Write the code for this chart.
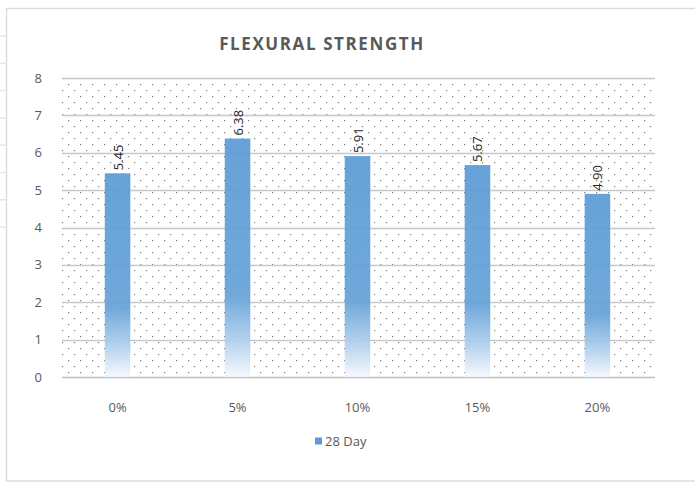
<!DOCTYPE html>
<html>
<head>
<meta charset="utf-8">
<script src="https://cdn.jsdelivr.net/npm/d3@7"></script>
<style>
  html, body { margin: 0; padding: 0; background: #fff; }
  text { font-family: 'Open Sans', 'Liberation Sans', sans-serif; }
</style>
</head>
<body>
<div id="chart"></div>
<script>
const categories = ['0%', '5%', '10%', '15%', '20%'];
const values28Day = [5.45, 6.38, 5.91, 5.67, 4.90];
const yTicks = [0, 1, 2, 3, 4, 5, 6, 7, 8];
const seriesName = '28 Day';
const chartTitle = 'FLEXURAL STRENGTH';

const width = 695;
const height = 483;
const margin = { top: 78, right: 38, bottom: 106, left: 58 };

const svg = d3
  .select('#chart')
  .append('svg')
  .attr('width', width)
  .attr('height', height);

const defs = svg.append('defs');

// dotted plot-area fill
const pattern = defs
  .append('pattern')
  .attr('id', 'dots')
  .attr('patternUnits', 'userSpaceOnUse')
  .attr('x', 62)
  .attr('y', 78)
  .attr('width', 12)
  .attr('height', 12);
pattern.append('rect').attr('x', 0).attr('y', 0).attr('width', 1.2).attr('height', 1.2).attr('fill', '#7f7f7f');
pattern.append('rect').attr('x', 6).attr('y', 6).attr('width', 1.2).attr('height', 1.2).attr('fill', '#7f7f7f');

const grad = defs
  .append('linearGradient')
  .attr('id', 'barGrad')
  .attr('x1', 0).attr('y1', 0).attr('x2', 0).attr('y2', 1);
grad.append('stop').attr('offset', '0%').attr('stop-color', '#5b9bd5');
grad.append('stop').attr('offset', '66%').attr('stop-color', '#66a2d8');
grad.append('stop').attr('offset', '86%').attr('stop-color', '#b5d2ee');
grad.append('stop').attr('offset', '100%').attr('stop-color', '#f6f9fd');

// outer frame (sheet edge)
const frame = svg.append('g').attr('stroke', '#d9dde3').attr('stroke-width', 1.5);
frame.append('line').attr('x1', 6).attr('x2', width).attr('y1', 8.5).attr('y2', 8.5);
frame.append('line').attr('x1', 6.5).attr('x2', 6.5).attr('y1', 8).attr('y2', 481);
frame.append('line').attr('x1', 6).attr('x2', width).attr('y1', 481).attr('y2', 481);
d3.range(8).forEach((i) => {
  frame.append('line').attr('x1', 0).attr('x2', 6).attr('y1', 36 + i * 27.3).attr('y2', 36 + i * 27.3).attr('stroke', '#e3e6ea');
});

const x = d3
  .scaleBand()
  .domain(categories)
  .range([margin.left, width - margin.right])
  .paddingInner(0.787)
  .paddingOuter(0.39);

const y = d3
  .scaleLinear()
  .domain([0, 8])
  .range([height - margin.bottom, margin.top]);

const plotLeft = 62;
const plotRight = 655;

svg
  .append('rect')
  .attr('x', plotLeft)
  .attr('y', y(8))
  .attr('width', plotRight - plotLeft)
  .attr('height', y(0) - y(8))
  .attr('fill', 'url(#dots)');

// gridlines
svg
  .append('g')
  .selectAll('line')
  .data(yTicks)
  .enter()
  .append('line')
  .attr('x1', plotLeft)
  .attr('x2', plotRight)
  .attr('y1', (d) => Math.round(y(d)) + 0.5)
  .attr('y2', (d) => Math.round(y(d)) + 0.5)
  .attr('stroke', (d) => (d === 0 ? '#bfbfbf' : '#c8c8c8'))
  .attr('stroke-width', 1.3);

// bars
svg
  .append('g')
  .selectAll('rect')
  .data(values28Day)
  .enter()
  .append('rect')
  .attr('x', (d, i) => x(categories[i]))
  .attr('y', (d) => y(d))
  .attr('width', x.bandwidth())
  .attr('height', (d) => y(0) - y(d))
  .attr('fill', 'url(#barGrad)')
  .attr('fill-opacity', 0.93);

// rotated data labels
svg
  .append('g')
  .selectAll('text')
  .data(values28Day)
  .enter()
  .append('text')
  .attr('transform', (d, i) => `translate(${x(categories[i]) + x.bandwidth() / 2 + 5},${y(d) - 3}) rotate(-90)`)
  .attr('text-anchor', 'start')
  .style('font-size', '13px')
  .attr('fill', '#262626')
  .text((d) => d.toFixed(2));

// y axis labels
svg
  .append('g')
  .selectAll('text')
  .data(yTicks)
  .enter()
  .append('text')
  .attr('x', 42)
  .attr('y', (d) => y(d))
  .attr('dy', '0.35em')
  .attr('text-anchor', 'end')
  .style('font-size', '13px')
  .attr('fill', '#595959')
  .text((d) => d);

// x axis labels
svg
  .append('g')
  .selectAll('text')
  .data(categories)
  .enter()
  .append('text')
  .attr('x', (d) => x(d) + x.bandwidth() / 2)
  .attr('y', 407)
  .attr('dy', '0.35em')
  .attr('text-anchor', 'middle')
  .style('font-size', '13px')
  .attr('fill', '#595959')
  .text((d) => d);

// title
svg
  .append('text')
  .attr('x', 322)
  .attr('y', 50)
  .attr('text-anchor', 'middle')
  .style('font-size', '17px')
  .style('font-weight', 'bold')
  .style('letter-spacing', '1.6px')
  .attr('fill', '#595959')
  .text(chartTitle);

// legend
const legend = svg.append('g').attr('transform', 'translate(315,441)');
legend
  .append('rect')
  .attr('x', 0)
  .attr('y', -3.5)
  .attr('width', 7)
  .attr('height', 7)
  .attr('fill', '#5b9bd5');
legend
  .append('text')
  .attr('x', 10)
  .attr('y', 0)
  .attr('dy', '0.35em')
  .style('font-size', '13px')
  .attr('fill', '#595959')
  .text(seriesName);
</script>
</body>
</html>
